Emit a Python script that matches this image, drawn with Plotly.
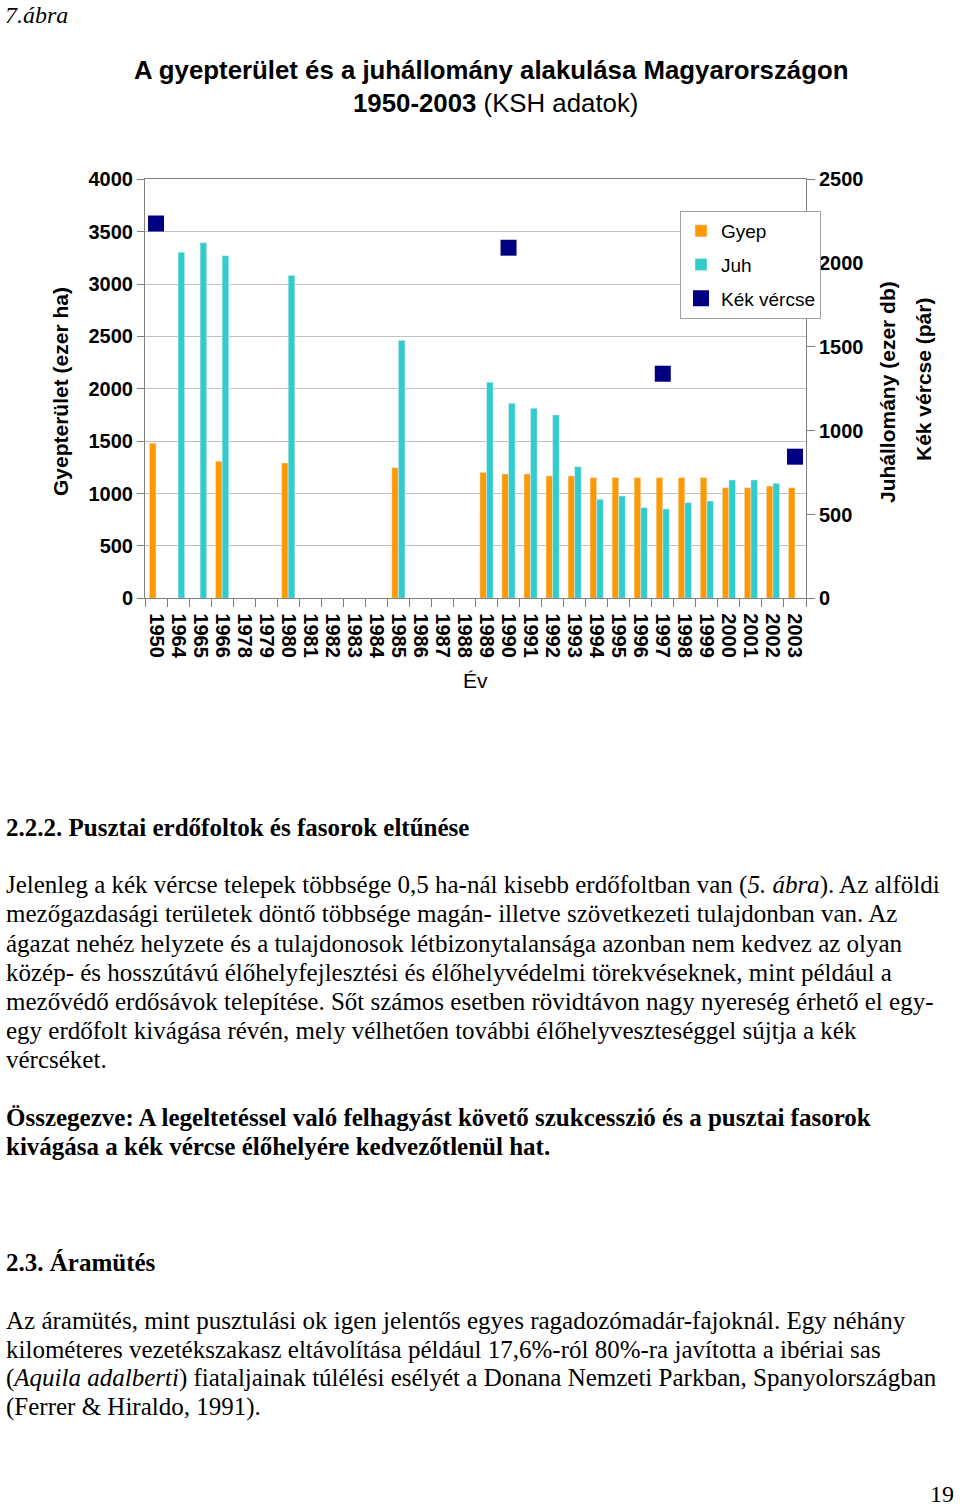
import plotly.graph_objects as go

# data (ezer ha / ezer db / pár)
years = ['1950', '1964', '1965', '1966', '1978', '1979', '1980', '1981', '1982', '1983',
         '1984', '1985', '1986', '1987', '1988', '1989', '1990', '1991', '1992', '1993',
         '1994', '1995', '1996', '1997', '1998', '1999', '2000', '2001', '2002', '2003']
gyep = [1480, None, None, 1308, None, None, 1292, None, None, None,
        None, 1247, None, None, None, 1203, 1187, 1187, 1168, 1168,
        1152, 1152, 1152, 1152, 1152, 1152, 1056, 1056, 1072, 1056]
juh = [None, 3303, 3395, 3271, None, None, 3084, None, None, None,
       None, 2463, None, None, None, 2062, 1862, 1814, 1750, 1257,
       945, 977, 866, 853, 913, 929, 1130, 1130, 1098, None]
vercse = [2237, None, None, None, None, None, None, None, None, None,
          None, None, None, None, None, None, 2092, None, None, None,
          None, None, None, 1340, None, None, None, None, None, 845]

W, H = 960, 1509
def py(px):
    return 1 - px / H

sans = 'Liberation Sans, Arial, sans-serif'
serif = 'Liberation Serif, Times New Roman, serif'

fig = go.Figure()
fig.add_trace(go.Bar(x=years, y=gyep, name='Gyep', marker_color='#FF9900',
                     legendgroup='a'))
fig.add_trace(go.Bar(x=years, y=juh, name='Juh', marker_color='#33CCCC',
                     legendgroup='b'))
fig.add_trace(go.Scatter(x=years, y=vercse, name='Kék vércse', mode='markers',
                         marker=dict(symbol='square', size=16, color='#000080'),
                         yaxis='y2', legendgroup='c'))

tickfont = dict(size=20, family=sans, weight='bold', color='black')
fig.update_layout(
    width=W, height=H, autosize=False,
    margin=dict(l=0, r=0, t=0, b=0, autoexpand=False),
    paper_bgcolor='white', plot_bgcolor='white',
    barmode='group', bargap=0.4, bargroupgap=0,
    font=dict(family=sans, color='black'),
    xaxis=dict(domain=[145 / W, 806 / W], type='category', tickangle=90,
               range=[-0.5, len(years) - 0.5], automargin=False,
               tickmode='array', tickvals=years, ticktext=years,
               tickfont=tickfont, ticklabelstandoff=10,
               showline=True, linecolor='#808080', mirror=True,
               ticks='outside', ticklen=8, tickcolor='#808080',
               tickson='boundaries', showgrid=False),
    yaxis=dict(domain=[py(598.3), py(179.3)], range=[0, 4000], dtick=500,
               tickfont=tickfont, automargin=False,
               showline=True, linecolor='#808080', ticks='outside', ticklen=7,
               tickcolor='#808080', showgrid=True, gridcolor='#c0c0c0',
               zeroline=False),
    yaxis2=dict(overlaying='y', side='right', range=[0, 2500], dtick=500,
                tickfont=tickfont, automargin=False,
                showline=True, linecolor='#808080', ticks='outside', ticklen=8,
                tickcolor='#808080', showgrid=False, zeroline=False),
    legend=dict(x=680 / W, y=py(211), xanchor='left', yanchor='top',
                bgcolor='white', bordercolor='#a0a0a0', borderwidth=1,
                font=dict(size=19, family=sans), traceorder='grouped',
                tracegroupgap=6, itemwidth=30),
)

ann = []
def txt(x, y, s, size, family=serif, xanchor='left', angle=0, yanchor='middle'):
    ann.append(dict(x=x / W, y=py(y), xref='paper', yref='paper', text=s,
                    showarrow=False, xanchor=xanchor, yanchor=yanchor,
                    textangle=angle, font=dict(size=size, family=family, color='black')))

txt(3, 0, '<i>7.ábra</i>', 24, yanchor='top')
txt(491, 70, '<b>A gyepterület és a juhállomány alakulása Magyarországon</b>', 25.8, sans, 'center')
txt(495, 103, '<b>1950-2003</b> (KSH adatok)', 25.8, sans, 'center')
txt(60, 392, '<b>Gyepterület (ezer ha)</b>', 21, sans, 'center', -90)
txt(887, 392, '<b>Juhállomány (ezer db)</b>', 21, sans, 'center', -90)
txt(923, 380, '<b>Kék vércse (pár)</b>', 21, sans, 'center', -90)
txt(475, 680, 'Év', 21, sans, 'center')

txt(4, 827, '<b>2.2.2. Pusztai erdőfoltok és fasorok eltűnése</b>', 25)
body1 = [
    'Jelenleg a kék vércse telepek többsége 0,5 ha-nál kisebb erdőfoltban van (<i>5. ábra</i>). Az alföldi',
    'mezőgazdasági területek döntő többsége magán- illetve szövetkezeti tulajdonban van. Az',
    'ágazat nehéz helyzete és a tulajdonosok létbizonytalansága azonban nem kedvez az olyan',
    'közép- és hosszútávú élőhelyfejlesztési és élőhelyvédelmi törekvéseknek, mint például a',
    'mezővédő erdősávok telepítése. Sőt számos esetben rövidtávon nagy nyereség érhető el egy-',
    'egy erdőfolt kivágása révén, mely vélhetően további élőhelyveszteséggel sújtja a kék',
    'vércséket.',
]
for i, s in enumerate(body1):
    txt(4, 885 + 29 * i, s, 25)
txt(4, 1117, '<b>Összegezve: A legeltetéssel való felhagyást követő szukcesszió és a pusztai fasorok</b>', 25)
txt(4, 1146, '<b>kivágása a kék vércse élőhelyére kedvezőtlenül hat.</b>', 25)
txt(4, 1262, '<b>2.3. Áramütés</b>', 25)
body2 = [
    'Az áramütés, mint pusztulási ok igen jelentős egyes ragadozómadár-fajoknál. Egy néhány',
    'kilométeres vezetékszakasz eltávolítása például 17,6%-ról 80%-ra javította a ibériai sas',
    '(<i>Aquila adalberti</i>) fiataljainak túlélési esélyét a Donana Nemzeti Parkban, Spanyolországban',
    '(Ferrer & Hiraldo, 1991).',
]
for i, s in enumerate(body2):
    txt(4, 1320 + 29 * i, s, 25)
txt(956, 1509, '19', 24, serif, 'right', yanchor='bottom')

fig.update_layout(annotations=ann)
fig.write_html('out.html', config={'displayModeBar': False},
               post_script="document.body.style.margin='0';document.body.style.overflow='hidden';")
